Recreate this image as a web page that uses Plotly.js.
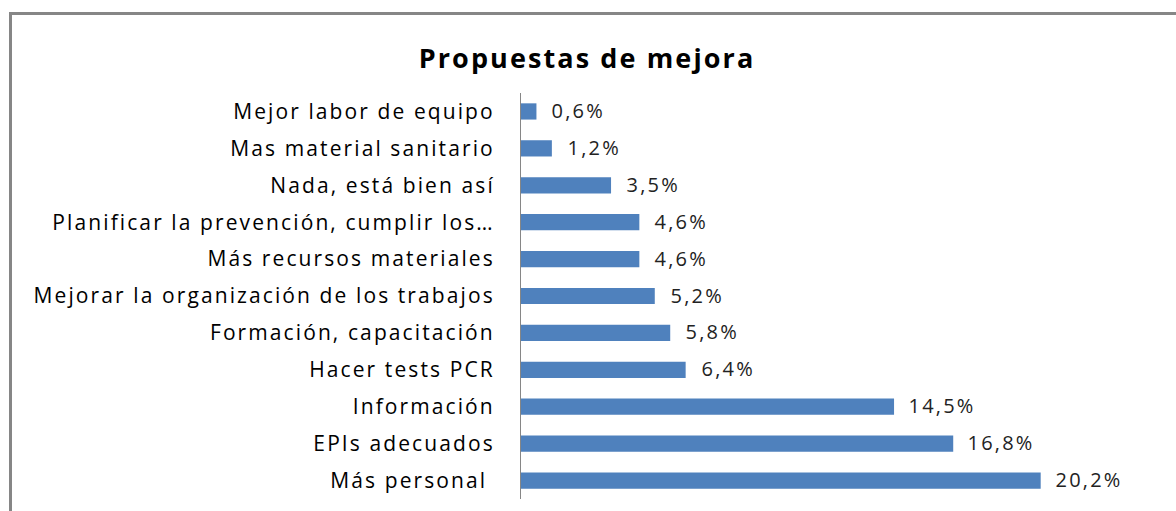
<!DOCTYPE html>
<html>
<head>
<meta charset="utf-8">
<script src="https://cdn.plot.ly/plotly-3.0.1.min.js"></script>
<style>
  html, body { margin: 0; padding: 0; background: #fff; }
  #wrap { position: relative; width: 1176px; height: 511px; overflow: hidden; }
  #frame { position: absolute; left: 9px; top: 12px; width: 1300px; height: 700px;
           border-left: 3px solid #868686; border-top: 3px solid #868686; pointer-events: none; }
  #chart { position: absolute; left: 0; top: 0; width: 1176px; height: 511px; }
  #chart .ytick text { letter-spacing: 2.1px; }
  #chart .annotation-text { letter-spacing: 2.2px; }
  #chart .gtitle { letter-spacing: 2.1px; }
</style>
</head>
<body>
<div id="wrap">
  <div id="chart"></div>
  <div id="frame"></div>
</div>
<script>
const categories = [
  "Mejor labor de equipo",
  "Mas material sanitario",
  "Nada, está bien así",
  "Planificar la prevención, cumplir los…",
  "Más recursos materiales",
  "Mejorar la organización de los trabajos",
  "Formación, capacitación",
  "Hacer tests PCR",
  "Información",
  "EPIs adecuados",
  "Más personal\u00a0"
];
const values = [0.6, 1.2, 3.5, 4.6, 4.6, 5.2, 5.8, 6.4, 14.5, 16.8, 20.2];
const valueLabels = values.map(v => v.toFixed(1).replace('.', ',') + '%');

const FONT = '"Open Sans", Lato, sans-serif';

const trace = {
  type: 'bar',
  orientation: 'h',
  x: values,
  y: categories,
  marker: { color: '#4F81BD' },
  width: 0.44,
  hoverinfo: 'none'
};

const annotations = values.map((v, i) => ({
  x: v, y: categories[i], xref: 'x', yref: 'y',
  text: valueLabels[i], showarrow: false,
  xanchor: 'left', yanchor: 'middle', xshift: 18, yshift: 1,
  font: { family: FONT, size: 20, color: '#222' }
}));

const layout = {
  width: 1176, height: 511,
  margin: { l: 521, r: 89, t: 93, b: 12, pad: 0 },
  paper_bgcolor: '#fff', plot_bgcolor: '#fff',
  showlegend: false,
  title: {
    text: '<b>Propuestas de mejora</b>',
    x: 587 / 1176, xanchor: 'center', xref: 'container',
    y: 1 - 59 / 511, yanchor: 'middle', yref: 'container',
    font: { family: FONT, size: 27, color: '#000' }
  },
  xaxis: {
    range: [0, 22], visible: false, showgrid: false, zeroline: false, fixedrange: true
  },
  yaxis: {
    autorange: 'reversed', type: 'category',
    showline: true, linecolor: '#868686', linewidth: 1,
    ticks: 'outside', ticklen: 21, tickcolor: 'rgba(0,0,0,0)',
    showgrid: false, zeroline: false,
    tickfont: { family: FONT, size: 21, color: '#000' }
  },
  annotations: annotations
};

Plotly.newPlot('chart', [trace], layout, { staticPlot: true, displayModeBar: false });
</script>
</body>
</html>
